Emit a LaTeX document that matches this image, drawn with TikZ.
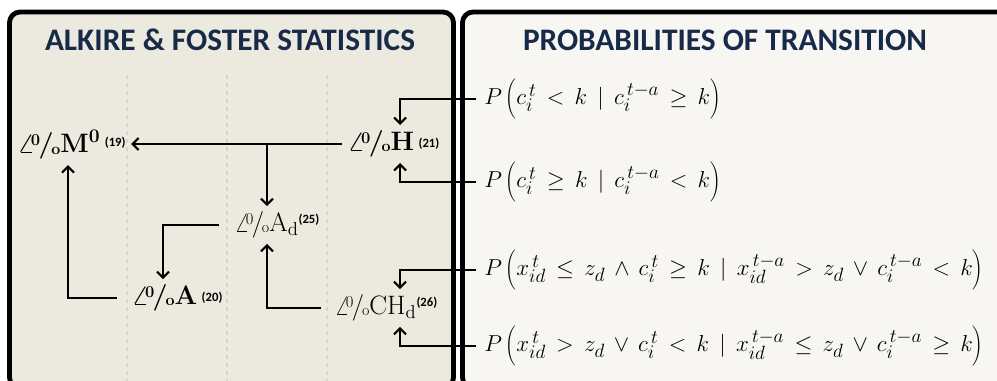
\documentclass[tikz,border=0pt]{standalone}
\usepackage{fontspec}
\newfontfamily\carlito{Carlito}
\usetikzlibrary{arrows.meta, positioning, calc}

\definecolor{leftpanel}{HTML}{ECE9DF}
\definecolor{rightpanel}{HTML}{F7F6F2}
\definecolor{titlenavy}{HTML}{182A49}
\definecolor{gridgray}{HTML}{D4D4D0}

% old style "delta percent" as printed
\newcommand{\dpct}{\ensuremath{\angle}\kern-.14em\raisebox{.62ex}{\scalebox{.62}{0}}\kern-.06em/\kern-.08em\raisebox{-.1ex}{\scalebox{.6}{o}}}
\newcommand{\reflbl}[1]{{\carlito\bfseries\fontsize{9.5}{10}\selectfont(#1)}}
\newcommand{\widemath}{\thickmuskip=8mu\relax\medmuskip=7mu\relax}
\newcommand{\tallstrut}{\vrule height 15pt depth 10pt width 0pt}

\begin{document}
\begin{tikzpicture}[
    x=0.75pt, y=-0.75pt,
    statnode/.style={inner sep=4pt, font=\fontsize{20}{22}\selectfont},
    statbold/.style={statnode, font=\fontsize{20}{22}\selectfont\bfseries\boldmath},
    probnode/.style={anchor=west, inner xsep=6pt, inner ysep=2pt, font=\fontsize{19}{21}\selectfont},
    paneltitle/.style={font=\carlito\bfseries\fontsize{23.5}{25}\selectfont, text=titlenavy},
    arr/.style={line width=1.6pt, -{Straight Barb[length=4.5pt,width=9pt]}}
]
\useasboundingbox (0,0) rectangle (997,381);
\clip (0,0) rectangle (997,381);

% --- panels ---
\draw[line width=3.6pt, rounded corners=8pt, fill=leftpanel] (9.5,12) rectangle (453.5,388);
\draw[line width=3.6pt, rounded corners=8pt, fill=rightpanel] (462.5,12) rectangle (1010,388);
\foreach \gx in {127,227,327}
    \draw[gridgray, dashed, line width=0.8pt] (\gx,75) -- (\gx,381);

% --- titles ---
\node[paneltitle] (ttlaf) at (230,40) {ALKIRE \& FOSTER STATISTICS};
\node[paneltitle] (ttlpt) at (725,40) {PROBABILITIES OF TRANSITION};

% --- Alkire & Foster nodes ---
\node[statbold] (mzero) at (71.5,145) {\dpct M$^0$\,\raisebox{.5ex}{\reflbl{19}}};
\node[statbold] (hcnt) at (393.5,144) {\dpct H\,\raisebox{.3ex}{\reflbl{21}}};
\node[statnode] (adep) at (277,225) {\dpct A$_{\mathrm{d}}$\raisebox{.7ex}{\reflbl{25}}};
\node[statbold] (aint) at (177,298) {\dpct A\,\raisebox{.3ex}{\reflbl{20}}};
\node[statnode] (chd) at (386,308) {\dpct CH$_{\mathrm{d}}$\raisebox{.7ex}{\reflbl{26}}};

% --- transition probabilities ---
\node[probnode] (pone) at (476,99) {$\widemath P\left(\tallstrut c_i^{\,t} < k \mid c_i^{\,t-a} \geq k\right)$};
\node[probnode] (ptwo) at (476,182) {$\widemath P\left(\tallstrut c_i^{\,t} \geq k \mid c_i^{\,t-a} < k\right)$};
\node[probnode] (pthree) at (476,270) {$\widemath P\left(\tallstrut x_{id}^{\,t} \leq z_d \wedge c_i^{\,t} \geq k \mid x_{id}^{\,t-a} > z_d \vee c_i^{\,t-a} < k\right)$};
\node[probnode] (pfour) at (476,346) {$\widemath P\left(\tallstrut x_{id}^{\,t} > z_d \vee c_i^{\,t} < k \mid x_{id}^{\,t-a} \leq z_d \vee c_i^{\,t-a} \geq k\right)$};

% --- connectors ---
\draw[arr] (hcnt.west) -- (hcnt.west -| mzero.east);
\draw[arr] ([xshift=-7.5pt]adep.north |- hcnt.west) -- ([xshift=-7.5pt]adep.north);
\draw[arr] ([xshift=-7.5pt]adep.west) -| ([xshift=-10.5pt]aint.north);
\draw[arr] ([xshift=-7pt]aint.west) -| ([xshift=-2.6pt]mzero.south);
\draw[arr] ([xshift=-6pt]chd.west) -| ([xshift=-7.5pt]adep.south);
\draw[arr] (pone.west) -| ([xshift=5pt]hcnt.north);
\draw[arr] (ptwo.west) -| ([xshift=5pt]hcnt.south);
\draw[arr] (pthree.west) -| ([xshift=10.5pt]chd.north);
\draw[arr] (pfour.west) -| ([xshift=10.5pt]chd.south);
\end{tikzpicture}
\end{document}
